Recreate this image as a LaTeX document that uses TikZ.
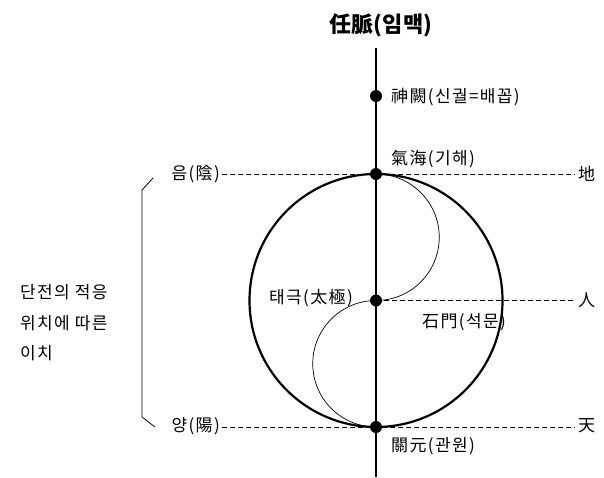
\documentclass[tikz,border=0pt]{standalone}
\usepackage{fontspec}
\setmainfont{Noto Sans CJK KR}
\newfontfamily\lblfont[LetterSpace=8]{Noto Sans CJK KR}
\begin{document}
\begin{tikzpicture}[x=1pt,y=-1pt,
  lbl/.style={font=\lblfont\fontsize{17}{19}\selectfont, inner sep=0pt},
  dot/.style={circle, fill=black, minimum size=12pt, inner sep=0pt},
  dash line/.style={line width=0.8pt, dash pattern=on 5pt off 3pt},
  thin curve/.style={line width=0.7pt},
  big circle/.style={line width=2.2pt}]
\useasboundingbox (0,0) rectangle (604,477);
% axis
\coordinate (axtop) at (376,48);
\coordinate (axbot) at (376,477);
\draw[line width=1.3pt] (axtop) -- (axbot);
% circle
\coordinate (C) at (376,300.5);
\draw[big circle] (C) circle[radius=126.5];
% S curve
\coordinate (T) at (376,174);
\coordinate (B) at (376,427);
\draw[thin curve] (T) arc[start angle=-90, end angle=90, radius=63.25];
\draw[thin curve] (C) arc[start angle=270, end angle=90, radius=63.25];
% dashed lines
\coordinate (d1s) at (222,174); \coordinate (d1e) at (575,174);
\coordinate (d2e) at (575,300.5);
\coordinate (d3s) at (222,427); \coordinate (d3e) at (575,427);
\draw[dash line] (d1s) -- (d1e);
\draw[dash line] (C) -- (d2e);
\draw[dash line] (d3s) -- (d3e);
% dots
\node[dot] (shin) at (376,96) {};
\node[dot] (gihae) at (T) {};
\node[dot] (taeguk) at (C) {};
\node[dot] (gwanwon) at (B) {};
% labels
\node[font=\fontsize{22}{24}\selectfont\bfseries, inner sep=0pt] (title) at (381,25) {任脈(임맥)};
\node[lbl, anchor=west] (l1) at (391,97) {神闕(신궐=배꼽)};
\node[lbl, anchor=west] (l2) at (391,159) {氣海(기해)};
\node[lbl, anchor=east] (eum) at (220,174) {음(陰)};
\node[lbl, anchor=west] (ji) at (578,174) {地};
\node[lbl, anchor=east] (tg) at (353,298) {태극(太極)};
\node[lbl, anchor=west] (in) at (578,300) {人};
\node[lbl, anchor=west] (sm) at (422,322) {石門(석문)};
\node[lbl, anchor=east] (yang) at (220,426) {양(陽)};
\node[lbl, anchor=west] (cheon) at (578,426) {天};
\node[lbl, anchor=west] (gw) at (391,446) {關元(관원)};
\node[lbl, anchor=west] (t1) at (20,292) {단전의 적응};
\node[lbl, anchor=west] (t2) at (20,323) {위치에 따른};
\node[lbl, anchor=west] (t3) at (20,353) {이치};
% bracket
\coordinate (bt) at (153,178);
\coordinate (b1) at (142,190);
\coordinate (b2) at (142,417);
\coordinate (bb) at (155,427);
\draw[line width=0.8pt] (bt) -- (b1) -- (b2) -- (bb);
\end{tikzpicture}
\end{document}
